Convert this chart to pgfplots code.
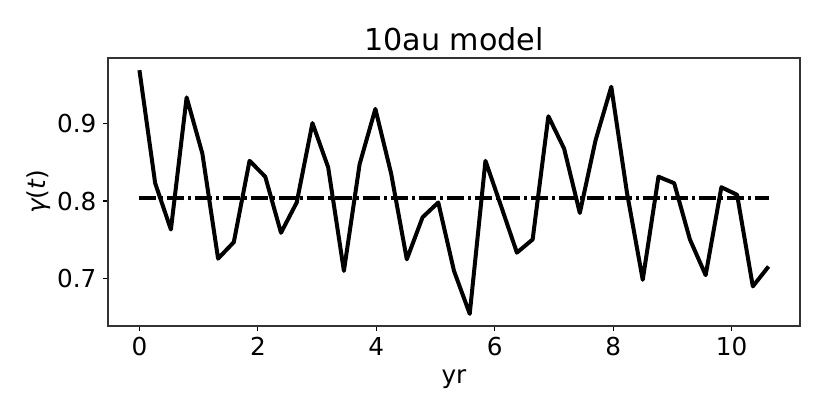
\documentclass[border=0pt]{standalone}
\usepackage{fontspec}
\setmainfont{DejaVu Sans}
\usepackage{pgfplots}
\pgfplotsset{compat=1.18}
\begin{document}
\begin{tikzpicture}
\begin{axis}[name=ax, scale only axis, width=346pt, height=134pt,
  xmin=-0.531, xmax=11.155, ymin=0.6385, ymax=0.985,
  xtick={0,2,4,6,8,10}, ytick={0.7,0.8,0.9},
  tick align=outside, tick pos=left, major tick length=2.3pt,
  axis line style={line width=0.65pt, draw=black!80},
  every tick/.style={black, line width=0.6pt},
  /pgf/number format/assume math mode=true,
  yticklabel style={/pgf/number format/fixed, /pgf/number format/precision=1},
  tick label style={font=\fontsize{12.35}{14}\selectfont},
  label style={font=\fontsize{12.35}{14}\selectfont},
  xlabel={yr}, ylabel={{\itshape γ}({\itshape t})},
  ylabel style={yshift=-3.5pt},
  title={10au model}, title style={font=\fontsize{15.1}{18}\selectfont, yshift=-6pt},
]
\addplot[black, line width=2pt, line join=round] coordinates {
(0,0.9692) (0.2656,0.8231) (0.5312,0.7632) (0.7968,0.9341) (1.0624,0.8615)
(1.328,0.7256) (1.5936,0.7469) (1.8592,0.8521) (2.1248,0.8315) (2.3904,0.7590)
(2.656,0.7982) (2.9216,0.9008) (3.1872,0.8436) (3.4528,0.7097) (3.7184,0.8478)
(3.984,0.9192) (4.2496,0.8359) (4.5152,0.7247) (4.7808,0.7790) (5.0464,0.7982)
(5.312,0.7097) (5.5776,0.6542) (5.8432,0.8521) (6.1088,0.7931) (6.3744,0.7333)
(6.64,0.7504) (6.9056,0.9097) (7.1712,0.8679) (7.4368,0.7846) (7.7024,0.8786)
(7.968,0.9478) (8.2336,0.8106) (8.4992,0.6982) (8.7648,0.8315) (9.0304,0.8231)
(9.296,0.7504) (9.5616,0.7042) (9.8272,0.8179) (10.0928,0.8081) (10.3584,0.6897)
(10.624,0.7154)};
\addplot[black, line width=2pt, dash pattern=on 8.5pt off 2pt on 1.5pt off 2pt]
  coordinates {(0,0.8038) (10.624,0.8038)};
\end{axis}
\pgfresetboundingbox
\path[use as bounding box] ([shift={(-54pt,-44.5pt)}]ax.south west) rectangle ([shift={(15pt,29pt)}]ax.north east);
\end{tikzpicture}
\end{document}
